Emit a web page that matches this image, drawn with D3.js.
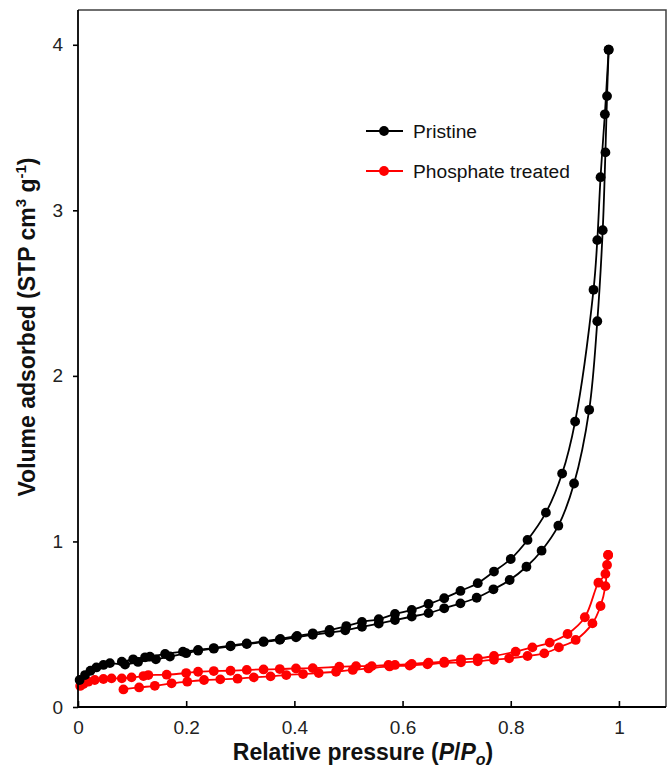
<!DOCTYPE html>
<html><head><meta charset="utf-8">
<script src="https://cdn.jsdelivr.net/npm/d3@7"></script>
<style>body{margin:0;background:#fff}svg{display:block;font-family:"Liberation Sans",Arial,sans-serif}</style>
</head><body>
<svg id="c" width="668" height="769"></svg>
<script>
const xTicks = [0, 0.2, 0.4, 0.6, 0.8, 1];
const yTicks = [0, 1, 2, 3, 4];
const seriesNames = ["Pristine", "Phosphate treated"];
const seriesColors = ["#000000", "#ff0000"];

const pristineAds = [[0.003,0.163],[0.013,0.193],[0.023,0.219],[0.034,0.239],[0.047,0.254],[0.059,0.265],[0.087,0.256],[0.111,0.272],[0.144,0.288],[0.170,0.305],[0.200,0.325],[0.222,0.340],[0.251,0.352],[0.282,0.366],[0.312,0.380],[0.343,0.393],[0.373,0.406],[0.403,0.421],[0.434,0.436],[0.465,0.450],[0.494,0.463],[0.525,0.484],[0.556,0.504],[0.586,0.525],[0.617,0.546],[0.648,0.567],[0.677,0.596],[0.707,0.626],[0.737,0.660],[0.768,0.711],[0.798,0.767],[0.829,0.847],[0.857,0.944],[0.888,1.095],[0.917,1.35],[0.945,1.795],[0.960,2.33],[0.970,2.88],[0.975,3.35],[0.978,3.69],[0.981,3.97]];
const pristineDes = [[0.981,3.97],[0.974,3.58],[0.966,3.20],[0.960,2.82],[0.953,2.52],[0.919,1.724],[0.895,1.41],[0.865,1.174],[0.831,1.009],[0.800,0.894],[0.769,0.818],[0.739,0.748],[0.707,0.701],[0.677,0.657],[0.648,0.622],[0.617,0.586],[0.586,0.562],[0.556,0.530],[0.525,0.514],[0.496,0.489],[0.465,0.465],[0.434,0.445],[0.405,0.429],[0.374,0.411],[0.343,0.396],[0.312,0.384],[0.282,0.371],[0.251,0.356],[0.222,0.345],[0.194,0.334],[0.161,0.320],[0.133,0.304],[0.124,0.300],[0.102,0.288],[0.081,0.274]];
const treatedAds = [[0.084,0.106],[0.113,0.118],[0.142,0.128],[0.173,0.143],[0.202,0.153],[0.233,0.163],[0.263,0.167],[0.295,0.171],[0.325,0.179],[0.356,0.185],[0.385,0.193],[0.416,0.199],[0.445,0.205],[0.477,0.213],[0.508,0.224],[0.537,0.233],[0.576,0.245],[0.613,0.250],[0.646,0.258],[0.677,0.266],[0.708,0.270],[0.739,0.276],[0.769,0.285],[0.797,0.294],[0.831,0.308],[0.862,0.324],[0.889,0.360],[0.920,0.405],[0.951,0.505],[0.966,0.610],[0.975,0.730],[0.978,0.858],[0.980,0.918]];
const treatedDes = [[0.980,0.918],[0.975,0.804],[0.962,0.751],[0.937,0.542],[0.905,0.441],[0.872,0.389],[0.840,0.360],[0.809,0.334],[0.769,0.308],[0.739,0.294],[0.708,0.288],[0.677,0.274],[0.648,0.268],[0.617,0.260],[0.586,0.254],[0.574,0.254],[0.543,0.247],[0.514,0.247],[0.483,0.243],[0.434,0.235],[0.403,0.233],[0.373,0.229],[0.343,0.227],[0.312,0.224],[0.282,0.219],[0.251,0.217],[0.222,0.213],[0.200,0.205],[0.164,0.195],[0.130,0.193],[0.121,0.187],[0.099,0.179],[0.081,0.173],[0.062,0.173],[0.047,0.169],[0.031,0.163],[0.019,0.153],[0.010,0.139],[0.004,0.127]];

const series = [
  {name: seriesNames[0], color: seriesColors[0], branches: [pristineAds, pristineDes]},
  {name: seriesNames[1], color: seriesColors[1], branches: [treatedAds, treatedDes]}
];

const svg = d3.select("#c");
const L = 78, R = 666, T = 10, B = 707;
const x = d3.scaleLinear().domain([0, 1.087]).range([L, R]);
const y = d3.scaleLinear().domain([0, 4.21]).range([B, T]);

svg.append("path").attr("d", `M${L},${T}H${R}V${B}`).attr("fill","none").attr("stroke","#404040").attr("stroke-width",1.5);

const line = d3.line().x(d => x(d[0])).y(d => y(d[1])).curve(d3.curveCatmullRom.alpha(0.5));

[series[1], series[0]].forEach(s => {
  const g = svg.append("g");
  s.branches.forEach(b => {
    g.append("path").attr("d", line(b)).attr("fill","none").attr("stroke", s.color).attr("stroke-width", 1.8);
  });
  s.branches.forEach(b => {
    g.selectAll(null).data(b).enter().append("circle")
      .attr("cx", d => x(d[0])).attr("cy", d => y(d[1])).attr("r", 4.9).attr("fill", s.color);
  });
});

const xAxis = d3.axisBottom(x).tickValues(xTicks).tickSize(-6).tickPadding(14).tickFormat(d => d3.format("~g")(d));
const gx = svg.append("g").attr("transform", `translate(0,${B})`).call(xAxis);
const yAxis = d3.axisLeft(y).tickValues(yTicks).tickSize(5).tickPadding(10).tickFormat(d3.format("d"));
const gy = svg.append("g").attr("transform", `translate(${L},0)`).call(yAxis);
[gx, gy].forEach(g => {
  g.select(".domain").attr("stroke","#000").attr("stroke-width",1.8);
  g.selectAll(".tick line").attr("stroke","#000").attr("stroke-width",1.6);
  g.selectAll(".tick text").attr("font-size",19).attr("fill","#222").attr("font-family",'"Liberation Sans",Arial,sans-serif');
});
gx.select(".domain").attr("d", `M${L},0H${R}`);
gy.select(".domain").attr("d", `M0,${T}V${B}`);

const xt = svg.append("text").attr("x", 363).attr("y", 760).attr("text-anchor","middle")
  .attr("font-size",23).attr("font-weight","bold").attr("fill","#111");
xt.append("tspan").text("Relative pressure (");
xt.append("tspan").attr("font-style","italic").text("P");
xt.append("tspan").text("/");
xt.append("tspan").attr("font-style","italic").text("P");
xt.append("tspan").attr("font-style","italic").attr("font-size",16).attr("dy",5).text("o");
xt.append("tspan").attr("dy",-5).text(")");

const yt = svg.append("text").attr("transform","translate(35,327) rotate(-90)").attr("text-anchor","middle")
  .attr("font-size",23).attr("font-weight","bold").attr("fill","#111");
yt.append("tspan").text("Volume adsorbed (STP cm");
yt.append("tspan").attr("font-size",15).attr("dy",-9).text("3");
yt.append("tspan").attr("dy",9).text(" g");
yt.append("tspan").attr("font-size",15).attr("dy",-9).text("-1");
yt.append("tspan").attr("dy",9).text(")");

const legY = [131, 171];
series.forEach((s, i) => {
  const g = svg.append("g");
  g.append("line").attr("x1",366).attr("x2",403).attr("y1",legY[i]).attr("y2",legY[i]).attr("stroke",s.color).attr("stroke-width",1.8);
  g.append("circle").attr("cx",384).attr("cy",legY[i]).attr("r",4.9).attr("fill",s.color);
  g.append("text").attr("x",413).attr("y",legY[i]+6.5).attr("font-size",19.2).attr("fill","#111").text(s.name);
});
</script>
</body></html>
